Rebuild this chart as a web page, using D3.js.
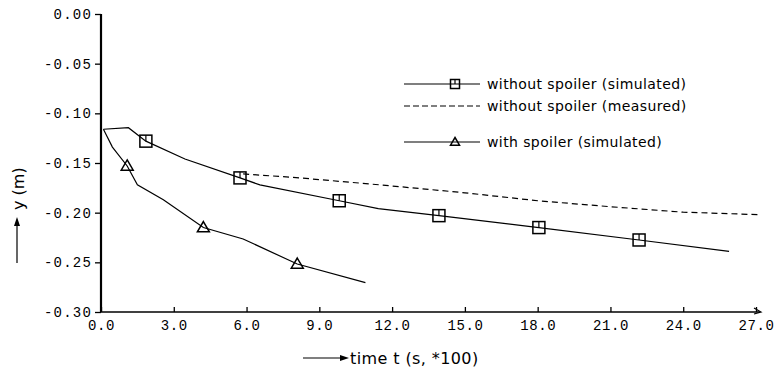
<!DOCTYPE html>
<html>
<head>
<meta charset="utf-8">
<script src="https://cdn.jsdelivr.net/npm/d3@7"></script>
<style>
  body { margin: 0; background: #fff; }
  .tick text { font-family: "Liberation Mono", "DejaVu Sans Mono", monospace; font-size: 14px; letter-spacing: 1.2px; fill: #000; }
  .lbl { font-family: "DejaVu Sans", sans-serif; fill: #000; }
</style>
</head>
<body>
<div id="chart"></div>
<script>
// values (time in s*100, y in m)
var simTime = [0.1, 1.13, 1.85, 3.46, 5.73, 6.55, 9.82, 11.43, 13.93, 18.05, 22.18, 25.89];
var simY = [-0.116, -0.1145, -0.128, -0.146, -0.165, -0.172, -0.188, -0.196, -0.203, -0.215, -0.2275, -0.239];
var simMarks = [2, 4, 6, 8, 9, 10];   // indices that carry a square

var measTime = [5.86, 8.2, 11.5, 15.0, 18.0, 21.0, 24.0, 27.1];
var measY = [-0.161, -0.165, -0.172, -0.180, -0.188, -0.194, -0.1995, -0.202];

var spTime = [0.1, 0.47, 1.08, 1.5, 2.57, 4.22, 5.86, 8.09, 10.9];
var spY = [-0.116, -0.134, -0.153, -0.172, -0.187, -0.215, -0.2265, -0.2517, -0.2705];
var spMarks = [2, 5, 7];

var xTicks = [0, 3, 6, 9, 12, 15, 18, 21, 24, 27];
var yTicks = [0, -0.05, -0.10, -0.15, -0.20, -0.25, -0.30];
var legendNames = ["without spoiler (simulated)", "without spoiler (measured)", "with spoiler (simulated)"];

var w = 778, h = 382;
var svg = d3.select("#chart").append("svg")
    .attr("width", w)
    .attr("height", h);

var x = d3.scaleLinear().domain([0, 27]).range([101, 756]);
var y = d3.scaleLinear().domain([-0.30, 0]).range([312, 14]);

// axes
var yAxis = d3.axisLeft(y).tickValues(yTicks).tickSize(6).tickPadding(3)
    .tickFormat(function (d) { return d.toFixed(2); });
var gy = svg.append("g").attr("transform", "translate(" + x(0) + ",0)").call(yAxis);
gy.select(".domain").attr("stroke-width", 2.2).attr("d", "M0," + y(0) + "V" + y(-0.30));
gy.selectAll(".tick line").attr("stroke-width", 1.3);

var xAxis = d3.axisBottom(x).tickValues(xTicks).tickSizeInner(-5).tickSizeOuter(0).tickPadding(5)
    .tickFormat(function (d) { return d.toFixed(1); });
var gx = svg.append("g").attr("transform", "translate(0," + y(-0.30) + ")").call(xAxis);
gx.select(".domain").attr("stroke-width", 1.6).attr("d", "M" + x(0) + ",0H" + (x(27) + 4));
gx.selectAll(".tick line").attr("stroke-width", 1.3).attr("y2", -5);
gx.selectAll(".tick text").attr("dy", "0.95em").style("letter-spacing", "0.6px");

// little arrow head at end of x axis
svg.append("path")
    .attr("d", "M" + (x(27) - 2) + "," + (y(-0.30) - 4) + "L" + (x(27) + 5) + "," + y(-0.30) + "L" + (x(27) - 2) + "," + (y(-0.30) + 2))
    .attr("fill", "none").attr("stroke", "#000").attr("stroke-width", 1.2);

// lines
var line = d3.line()
    .x(function (d) { return x(d[0]); })
    .y(function (d) { return y(d[1]); });

var simData = d3.zip(simTime, simY);
var measData = d3.zip(measTime, measY);
var spData = d3.zip(spTime, spY);

svg.append("path").datum(simData).attr("d", line)
    .attr("fill", "none").attr("stroke", "#000").attr("stroke-width", 1.2);
svg.append("path").datum(measData).attr("d", line)
    .attr("fill", "none").attr("stroke", "#000").attr("stroke-width", 1.2)
    .attr("stroke-dasharray", "6,4");
svg.append("path").datum(spData).attr("d", line)
    .attr("fill", "none").attr("stroke", "#000").attr("stroke-width", 1.2);

function square(g, cx, cy, s) {
    g.append("rect").attr("x", cx - s).attr("y", cy - s).attr("width", 2 * s).attr("height", 2 * s)
        .attr("fill", "none").attr("stroke", "#000").attr("stroke-width", 1.5);
    g.append("line").attr("x1", cx).attr("x2", cx).attr("y1", cy - s).attr("y2", cy)
        .attr("stroke", "#000").attr("stroke-width", 1.2);
}
function triangle(g, cx, cy, s) {
    g.append("path")
        .attr("d", "M" + cx + "," + (cy - s) + "L" + (cx + s) + "," + (cy + s * 0.7) + "L" + (cx - s) + "," + (cy + s * 0.7) + "Z")
        .attr("fill", "none").attr("stroke", "#000").attr("stroke-width", 1.5);
}

var marks = svg.append("g");
simMarks.forEach(function (i) { square(marks, x(simTime[i]), y(simY[i]), 6); });
spMarks.forEach(function (i) { triangle(marks, x(spTime[i]), y(spY[i]), 6); });

// legend
var legY = [84, 106, 142];
var lg = svg.append("g");
legendNames.forEach(function (name, i) {
    var ln = lg.append("line").attr("x1", 404).attr("x2", 480).attr("y1", legY[i]).attr("y2", legY[i])
        .attr("stroke", "#000").attr("stroke-width", 1.2);
    if (i === 1) ln.attr("stroke-dasharray", "6,3");
    if (i === 0) square(lg, 455, legY[i], 4.5);
    if (i === 2) triangle(lg, 455, legY[i], 4.5);
    lg.append("text").attr("class", "lbl").attr("x", 487).attr("y", legY[i] + 5)
        .style("font-size", "14px").style("letter-spacing", "0.4px").text(name);
});

// axis titles
var yl = svg.append("g").attr("transform", "translate(24,210) rotate(-90)");
yl.append("text").attr("class", "lbl").attr("x", 0).attr("y", 0)
    .style("font-size", "16px").text("y (m)");
svg.append("line").attr("x1", 17).attr("x2", 17).attr("y1", 263).attr("y2", 220)
    .attr("stroke", "#000").attr("stroke-width", 1.2);
svg.append("path").attr("d", "M14,226L17,217L20,226Z").attr("fill", "#000");

svg.append("line").attr("x1", 303).attr("x2", 345).attr("y1", 358).attr("y2", 358)
    .attr("stroke", "#000").attr("stroke-width", 1.2);
svg.append("path").attr("d", "M340,355L349,358L340,361Z").attr("fill", "#000");
svg.append("text").attr("class", "lbl").attr("x", 350).attr("y", 364)
    .style("font-size", "16px").style("letter-spacing", "0.4px").text("time t (s, *100)");
</script>
</body>
</html>
